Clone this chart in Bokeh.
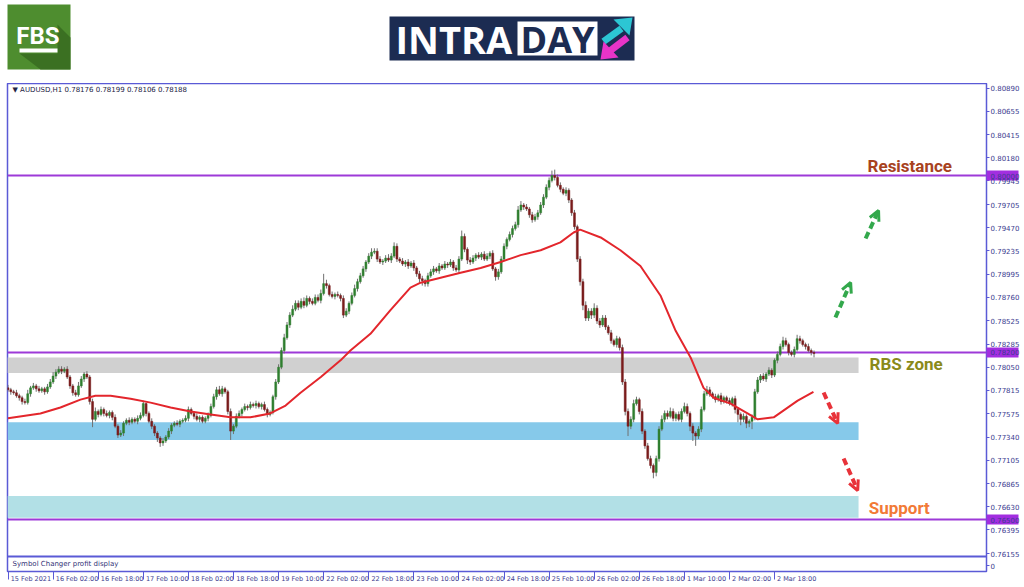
import numpy as np
from bokeh.plotting import figure
from bokeh.layouts import column
from bokeh.models import Range1d, FixedTicker, PrintfTickFormatter, Label, Arrow, OpenHead, Span
from bokeh.embed import file_html
from bokeh.resources import INLINE
from bokeh.core.properties import value

# ---------------- data ----------------
symbol_header = "\u25BC AUDUSD,H1  0.78176 0.78199 0.78106 0.78188"
subwindow_name = "Symbol Changer profit display"

x_tick_bars = [0, 16, 32, 48, 64, 80, 96, 112, 128, 144, 160, 176, 192, 208, 224, 240, 256, 272]
x_tick_labels = ["15 Feb 2021", "16 Feb 02:00", "16 Feb 18:00", "17 Feb 10:00", "18 Feb 02:00",
                 "18 Feb 18:00", "19 Feb 10:00", "22 Feb 02:00", "22 Feb 18:00", "23 Feb 10:00",
                 "24 Feb 02:00", "24 Feb 18:00", "25 Feb 10:00", "26 Feb 02:00", "26 Feb 18:00",
                 "1 Mar 10:00", "2 Mar 02:00", "2 Mar 18:00"]

y_ticks = [0.80890, 0.80655, 0.80415, 0.80180, 0.79945, 0.79705, 0.79470, 0.79235, 0.78995,
           0.78760, 0.78525, 0.78285, 0.78050, 0.77815, 0.77575, 0.77340, 0.77105, 0.76865,
           0.76630, 0.76395, 0.76155]
sub_tick = 0.7603
sub_tick_label = "0"

key_levels = [0.80000, 0.78200, 0.76500]

first_open = 7784  # pips (x 1e-4)
close_pips = [
    7782, 7780, 7779, 7776, 7774, 7770, 7769, 7778, 7784, 7786,
    7783, 7781, 7783, 7780, 7785, 7790, 7796, 7800, 7803, 7801,
    7803, 7795, 7786, 7779, 7777, 7786, 7793, 7798, 7795, 7770,
    7752, 7760, 7757, 7762, 7758, 7756, 7759, 7754, 7745, 7736,
    7738, 7748, 7751, 7749, 7752, 7750, 7753, 7756, 7768, 7758,
    7750, 7745, 7738, 7733, 7728, 7730, 7734, 7740, 7746, 7748,
    7747, 7750, 7751, 7753, 7762, 7758, 7755, 7752, 7754, 7750,
    7753, 7756, 7765, 7775, 7782, 7778, 7783, 7780, 7760, 7740,
    7745, 7755, 7758, 7762, 7765, 7764, 7767, 7766, 7768, 7765,
    7767, 7762, 7757, 7759, 7775, 7790, 7805, 7822, 7835, 7848,
    7858, 7864, 7870, 7866, 7872, 7868, 7875, 7872, 7870, 7876,
    7873, 7880, 7890, 7888, 7879, 7877, 7879, 7878, 7875, 7858,
    7862, 7870, 7878, 7885, 7892, 7898, 7905, 7912, 7918, 7922,
    7923, 7915, 7912, 7913, 7916, 7914, 7918, 7928, 7915, 7913,
    7910, 7912, 7908, 7911, 7906, 7900, 7895, 7893, 7890, 7898,
    7902, 7905, 7903, 7908, 7906, 7910, 7909, 7912, 7906, 7904,
    7915, 7938, 7925, 7914, 7912, 7916, 7919, 7917, 7920, 7915,
    7918, 7921, 7905, 7897, 7902, 7915, 7928, 7935, 7940, 7946,
    7950, 7965, 7970, 7968, 7966, 7960, 7955, 7958, 7962, 7970,
    7978, 7988, 7995, 8000, 7998, 7990, 7986, 7982, 7985, 7975,
    7962, 7948, 7915, 7892, 7868, 7855, 7862, 7858, 7865, 7852,
    7848, 7855, 7846, 7840, 7832, 7828, 7834, 7825, 7790, 7760,
    7745, 7752, 7768, 7772, 7760, 7740, 7725, 7712, 7705, 7698,
    7712, 7742, 7752, 7758, 7755, 7760, 7753, 7757, 7752, 7760,
    7765, 7758, 7745, 7738, 7735, 7742, 7762, 7778, 7782, 7778,
    7775, 7772, 7776, 7770, 7774, 7771, 7768, 7773, 7762, 7757,
    7752, 7755, 7748, 7750, 7754, 7780, 7792, 7796, 7793, 7798,
    7802, 7797, 7812, 7818, 7826, 7832, 7828, 7820, 7818, 7823,
    7834, 7832, 7828, 7826, 7822, 7820, 7819]

upper_wick_pips = [
    3, 2, 2, 3, 2, 2, 3, 4, 2, 3,
    2, 3, 2, 2, 3, 3, 4, 3, 3, 3,
    2, 3, 2, 2, 3, 4, 3, 2, 3, 2,
    3, 4, 2, 3, 2, 3, 2, 2, 3, 2,
    3, 2, 2, 3, 2, 2, 3, 3, 3, 1,
    2, 3, 2, 2, 2, 3, 2, 3, 2, 2,
    3, 2, 2, 3, 3, 2, 2, 3, 2, 2,
    2, 3, 3, 3, 3, 4, 3, 2, 2, 3,
    2, 3, 3, 2, 3, 2, 3, 2, 3, 2,
    2, 3, 2, 2, 2, 3, 3, 3, 4, 3,
    3, 4, 3, 3, 3, 4, 3, 2, 3, 3,
    3, 4, 10, 4, 2, 3, 2, 3, 2, 3,
    3, 2, 3, 4, 3, 3, 3, 2, 3, 4,
    3, 3, 3, 2, 3, 4, 3, 4, 3, 2,
    3, 2, 3, 2, 3, 2, 3, 3, 2, 3,
    3, 3, 2, 3, 2, 3, 2, 3, 2, 3,
    3, 6, 3, 2, 3, 3, 2, 3, 2, 3,
    3, 2, 3, 2, 3, 3, 3, 2, 3, 3,
    3, 4, 4, 2, 3, 2, 3, 3, 3, 3,
    3, 3, 3, 5, 6, 3, 3, 2, 3, 2,
    2, 3, 2, 3, 3, 4, 3, 3, 5, 3,
    3, 3, 3, 2, 3, 2, 3, 2, 3, 3,
    3, 3, 4, 3, 2, 3, 2, 3, 3, 2,
    3, 3, 4, 3, 3, 4, 3, 2, 3, 3,
    4, 3, 2, 3, 2, 3, 3, 3, 4, 3,
    2, 3, 2, 3, 2, 2, 3, 2, 3, 2,
    2, 3, 2, 2, 3, 3, 3, 2, 3, 2,
    3, 2, 2, 3, 3, 4, 3, 2, 2, 3,
    4, 3, 2, 2, 3, 2, 2]

lower_wick_pips = [
    2, 3, 2, 2, 3, 3, 2, 2, 3, 2,
    3, 2, 2, 3, 2, 2, 2, 3, 2, 3,
    2, 2, 3, 3, 2, 2, 2, 3, 2, 3,
    8, 2, 3, 2, 3, 2, 3, 3, 2, 3,
    2, 3, 2, 3, 2, 2, 3, 2, 2, 3,
    2, 3, 3, 4, 4, 3, 2, 2, 3, 2,
    2, 3, 2, 2, 3, 2, 3, 2, 3, 2,
    2, 3, 2, 2, 3, 2, 3, 2, 3, 9,
    3, 2, 2, 3, 2, 3, 2, 2, 3, 2,
    3, 2, 3, 2, 2, 3, 2, 2, 3, 2,
    3, 2, 2, 3, 2, 3, 2, 3, 2, 2,
    2, 3, 2, 3, 2, 2, 3, 2, 3, 3,
    2, 3, 2, 2, 3, 2, 2, 3, 2, 3,
    2, 3, 2, 3, 2, 2, 3, 2, 3, 2,
    2, 3, 3, 2, 3, 3, 4, 5, 3, 3,
    2, 3, 2, 3, 2, 2, 3, 2, 3, 2,
    3, 2, 3, 4, 3, 2, 3, 2, 3, 2,
    2, 3, 2, 4, 3, 2, 2, 3, 2, 3,
    2, 3, 2, 3, 2, 3, 3, 2, 3, 2,
    3, 2, 3, 2, 3, 2, 3, 2, 3, 3,
    3, 3, 3, 4, 5, 3, 3, 4, 3, 3,
    3, 2, 3, 2, 3, 2, 3, 3, 3, 4,
    10, 3, 3, 2, 3, 3, 3, 2, 3, 6,
    4, 3, 2, 3, 3, 2, 3, 3, 2, 3,
    2, 3, 5, 8, 10, 3, 3, 2, 2, 3,
    2, 3, 2, 3, 2, 3, 2, 3, 4, 8,
    6, 3, 5, 4, 8, 3, 2, 3, 2, 3,
    2, 3, 2, 3, 2, 3, 2, 3, 2, 3,
    2, 3, 2, 3, 2, 3, 4]

ma_bar = [0, 11.5, 18.6, 25.7, 31, 36.4, 43.5, 50.6, 57.7, 64.8,
          71.9, 79, 86, 93, 98.5, 103.8, 111, 118, 121.5, 128.6,
          135.7, 142.8, 146.4, 153.5, 160.6, 167.7, 174.8, 181.9, 189, 196,
          200.7, 203, 210.3, 217.3, 224.4, 231.5, 236.9, 242.2, 246.8, 250.4,
          256.4, 262.4, 266, 271.7, 280.2, 285.8]
ma_val = [0.7753, 0.7758, 0.7764, 0.7772, 0.7776, 0.7776, 0.7773, 0.7769, 0.7764, 0.7760,
          0.7757, 0.7754, 0.7754, 0.7758, 0.7766, 0.7779, 0.7795, 0.7812, 0.7822, 0.7839,
          0.7863, 0.7886, 0.7891, 0.7896, 0.7901, 0.7906, 0.7912, 0.7919, 0.7924, 0.7932,
          0.7942, 0.7945, 0.7937, 0.7924, 0.7908, 0.7878, 0.7842, 0.7815, 0.7784, 0.7774,
          0.7768, 0.7758, 0.7752, 0.7754, 0.7771, 0.7780]

zone_names = ["RBS zone", "support 1", "support 2"]
zone_bottom = [0.7799, 0.7731, 0.7652]
zone_top = [0.7815, 0.7749, 0.7674]
zone_start_bar = -0.2
zone_end_bar = 301.8

note_text = ["Resistance", "RBS zone", "Support"]
note_bar = [305.0, 305.7, 305.4]
note_price = [0.80092, 0.78078, 0.76613]

arrow_x0 = [293.6, 304.3, 289.4, 296.5]
arrow_y0 = [0.78556, 0.79359, 0.77793, 0.77122]
arrow_x1 = [299.0, 308.9, 294.4, 301.5]
arrow_y1 = [0.78912, 0.79644, 0.77478, 0.76796]
arrow_dir = ["up", "up", "down", "down"]

# ---------------- derived OHLC ----------------
closes = np.array(close_pips) / 10000.0
opens = np.concatenate([[first_open / 10000.0], closes[:-1]])
highs = np.maximum(opens, closes) + np.array(upper_wick_pips) / 10000.0
lows = np.minimum(opens, closes) - np.array(lower_wick_pips) / 10000.0
bars = np.arange(len(closes))
body_top = np.maximum(opens, closes)
body_bot = np.minimum(opens, closes)
body_col = np.where(closes > opens, "#2f7f2f", np.where(closes < opens, "#7a1c1c", "#808080"))

FRAME = "#5a5ad6"
LEVEL = "#9d3ad8"
AXTXT = "#3b3b8f"

W = 1024
HEAD_H = 83
CHART_H = 503
FRAME_L, FRAME_R = 7, 986
X0, X1 = -0.18, 347.2
Y0, Y1 = 0.75972, 0.80936

# ---------------- header ----------------
# the column aligns this frame with the chart frame, so its x range spans the same page pixels
h = figure(width=W, height=HEAD_H, x_range=Range1d(FRAME_L, FRAME_R), y_range=Range1d(HEAD_H, 0),
           output_backend="svg", toolbar_location=None,
           min_border_left=FRAME_L, min_border_right=W - FRAME_R, min_border_top=0, min_border_bottom=0,
           x_axis_location=None, y_axis_location=None)
h.grid.visible = False
h.outline_line_color = None
# FBS logo
h.quad(left=[5], right=[70], top=[4], bottom=[69], fill_color="#4e8d2f", line_color=None)
h.patch(x=[57, 70, 70, 40, 19, 57], y=[24, 37, 69, 69, 53, 53], fill_color="#3b7022", line_color=None)
h.text(x=[37.5], y=[35.5], text=["FBS"], text_font=value("Roboto"), text_font_style="bold",
       text_font_size="24px", text_color="white", text_align="center", text_baseline="middle")
h.quad(left=[19], right=[57], top=[48], bottom=[52], fill_color="white", line_color=None)
# INTRADAY logo
h.quad(left=[389], right=[634], top=[16], bottom=[60], fill_color="#1c2c52", line_color=None)
h.quad(left=[517], right=[597], top=[21], bottom=[55], fill_color="white", line_color=None)
h.text(x=[395], y=[38.5], text=["INTRA"], text_font=value("Open Sans"), text_font_style="bold",
       text_font_size="38px", text_color="white", text_align="left", text_baseline="middle")
h.text(x=[520], y=[38.5], text=["DAY"], text_font=value("Open Sans"), text_font_style="bold",
       text_font_size="36px", text_color="#1c2c52", text_align="left", text_baseline="middle")
h.segment(x0=[603], y0=[41], x1=[621], y1=[28], line_color="#2cc6d4", line_width=7)
h.patch(x=[632, 613, 629], y=[17, 19, 35], fill_color="#2cc6d4", line_color=None)
h.segment(x0=[627], y0=[37], x1=[610], y1=[50], line_color="#e834c8", line_width=7)
h.patch(x=[600, 618, 603], y=[59, 57, 41], fill_color="#e834c8", line_color=None)

# ---------------- chart ----------------
p = figure(width=W, height=CHART_H, x_range=Range1d(X0, X1), y_range=Range1d(Y0, Y1),
           output_backend="svg", toolbar_location=None, y_axis_location="right",
           min_border_left=FRAME_L, min_border_right=W - FRAME_R, min_border_top=0, min_border_bottom=15)
p.grid.visible = False
p.outline_line_color = FRAME
p.outline_line_width = 1.5
p.background_fill_color = "white"

ya = p.yaxis[0]
ya.ticker = FixedTicker(ticks=y_ticks + key_levels + [sub_tick], minor_ticks=key_levels)
ya.formatter = PrintfTickFormatter(format="%.5f")
ya.major_label_overrides = {sub_tick: sub_tick_label}
ya.major_label_text_font = "DejaVu Sans"
ya.major_label_text_font_size = "7px"
ya.major_label_text_color = AXTXT
ya.major_tick_out = 3
ya.major_tick_in = 0
ya.minor_tick_out = 32          # purple box behind the key-level prices
ya.minor_tick_in = 0
ya.minor_tick_line_width = 10
ya.minor_tick_line_color = "#a22ee0"
ya.major_label_standoff = -28   # labels sit 4px right of the axis line
ya.axis_line_color = FRAME
ya.major_tick_line_color = FRAME

# x labels start just right of their tick: put the label centre half a label-width to the right
char_w = {c: 0.636 for c in "0123456789"}
char_w.update({" ": 0.318, ":": 0.337, "F": 0.575, "e": 0.615, "b": 0.635, "M": 0.863, "a": 0.613, "r": 0.411})
XFS = 6.5
px_per_bar = (FRAME_R - FRAME_L) / (X1 - X0)
label_centres = []
for b, lab in zip(x_tick_bars, x_tick_labels):
    w = sum(char_w.get(c, 0.6) for c in lab) * XFS
    label_centres.append(round(b + (2.5 + w / 2) / px_per_bar, 2))

xa = p.xaxis[0]
xa.ticker = FixedTicker(ticks=label_centres, minor_ticks=x_tick_bars)
xa.major_label_overrides = {c: lab for c, lab in zip(label_centres, x_tick_labels)}
xa.major_label_text_font = "DejaVu Sans"
xa.major_label_text_font_size = f"{XFS}px"
xa.major_label_text_color = AXTXT
xa.major_tick_out = 0
xa.major_tick_in = 0
xa.minor_tick_out = 8
xa.minor_tick_in = 0
xa.minor_tick_line_color = FRAME
xa.major_label_standoff = -5
xa.axis_line_color = FRAME

# zones
zone_colors = ["#d0d0d0", "#86c9ea", "#b2e0e6"]
p.quad(left=[zone_start_bar] * 3, right=[zone_end_bar] * 3, bottom=zone_bottom, top=zone_top,
       fill_color=zone_colors, line_color=None)

# key levels
for lvl in key_levels:
    p.add_layout(Span(location=lvl, dimension="width", line_color=LEVEL, line_width=2, level="underlay"))

# subwindow separator
p.add_layout(Span(location=0.76125, dimension="width", line_color=FRAME, line_width=2))

# candles
p.segment(x0=bars, y0=lows, x1=bars, y1=highs, line_color="#707070", line_width=1)
p.vbar(x=bars, width=0.7, top=body_top, bottom=body_bot, fill_color=body_col, line_color=body_col,
       line_width=0.5)

# moving average
p.line(ma_bar, ma_val, line_color="#e3262c", line_width=2)

# notes
p.text(x=note_bar, y=note_price, text=note_text, text_color=["#a8421e", "#8a8a1a", "#f27a36"],
       text_font=value("Roboto"), text_font_style="bold", text_font_size="17px",
       text_baseline="middle", text_align="left")

# arrows
for x0, y0, x1, y1, d in zip(arrow_x0, arrow_y0, arrow_x1, arrow_y1, arrow_dir):
    c = "#33a84c" if d == "up" else "#e8333a"
    p.add_layout(Arrow(x_start=x0, y_start=y0, x_end=x1, y_end=y1, line_color=c, line_width=4,
                       line_dash="7 4", end=OpenHead(size=10, line_color=c, line_width=3)))

# texts inside the chart
p.add_layout(Label(x=X0, y=Y1, x_offset=5, y_offset=-6, text=symbol_header,
                   text_font="DejaVu Sans", text_font_size="7px", text_color="#222244",
                   text_baseline="middle"))
p.add_layout(Label(x=X0, y=0.76044, x_offset=5, text=subwindow_name,
                   text_font="DejaVu Sans", text_font_size="7px", text_color="#333377",
                   text_baseline="middle"))

layout = column(h, p, spacing=0)
open("out.html", "w").write(file_html(layout, INLINE))
